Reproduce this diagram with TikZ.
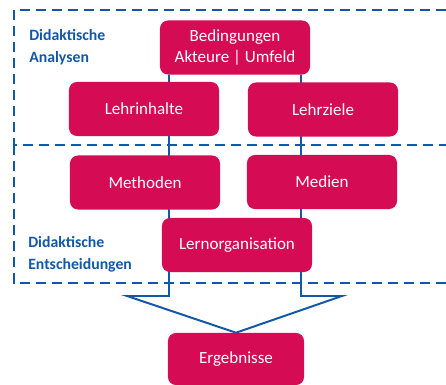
\documentclass[tikz,border=0pt]{standalone}
\usepackage{fontspec}
\setmainfont{Carlito}
\usetikzlibrary{backgrounds}
\definecolor{boxred}{RGB}{213,11,83}
\definecolor{lineblue}{RGB}{18,88,168}
\tikzset{
  box/.style={fill=boxred, text=white, rounded corners=0.2cm, minimum width=3.75cm,
    minimum height=1.35cm, align=center, inner sep=0pt, font=\fontsize{12.1}{15}\selectfont},
  area/.style={draw=lineblue, line width=1.8pt, dash pattern=on 0.25cm off 0.15cm},
  conn/.style={draw=lineblue, line width=1.4pt},
  arealabel/.style={text=lineblue, anchor=north west, align=left, inner sep=0pt,
    font=\bfseries\fontsize{11.2}{15.5}\selectfont}
}
\begin{document}
\begin{tikzpicture}[x=0.025cm, y=-0.025cm]
\useasboundingbox (0,0) rectangle (446,385);
% dashed areas
\draw[area] (446,10) -- (14,10) -- (14,145) -- (446,145);
\draw[area] (14,145) -- (14,283) -- (446,283);
\node[arealabel] (ana) at (29,29) {Didaktische\\Analysen};
\node[arealabel] (ent) at (28,236) {Didaktische\\Entscheidungen};
% boxes
\node[box] (bed) at (235,47.5) {Bedingungen\\Akteure | Umfeld};
\node[box] (inh) at (144,109) {Lehrinhalte};
\node[box] (ziel) at (323,109.5) {Lehrziele};
\node[box] (meth) at (145,182.5) {Methoden};
\node[box] (med) at (322,182) {Medien};
\node[box] (lern) at (237,245) {Lernorganisation};
\node[box, minimum width=3.4cm, minimum height=1.3cm] (erg) at (236,359) {Ergebnisse};
% funnel
\coordinate (fl) at (169,296);
\coordinate (fr) at (301,296);
\coordinate (ol) at (127,296);
\coordinate (or) at (342,296);
\begin{scope}[on background layer]
\draw[conn] (bed.south -| fl) -- (fl) -- (ol) -- (erg.north) -- (or) -- (fr) -- (bed.south -| fr);
\end{scope}
\end{tikzpicture}
\end{document}
